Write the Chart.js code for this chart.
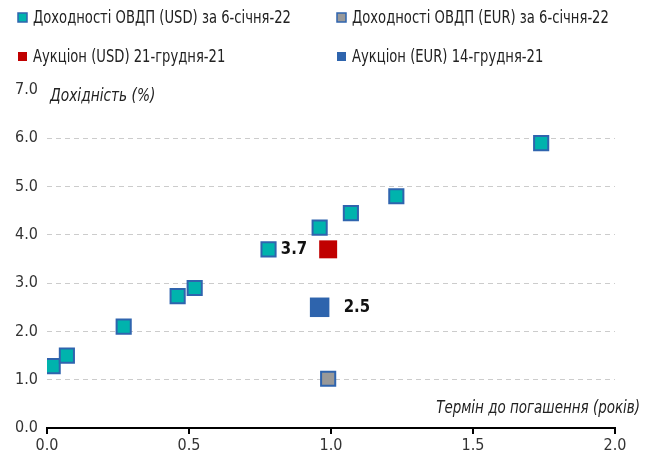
<!DOCTYPE html>
<html>
<head>
<meta charset="utf-8">
<script src="https://cdn.jsdelivr.net/npm/chart.js@4.4.1/dist/chart.umd.min.js"></script>
<style>
  html, body { margin: 0; padding: 0; background: #fff; }
  #wrap { width: 650px; height: 459px; position: relative; }
</style>
</head>
<body>
<div id="wrap"><canvas id="yieldChart"></canvas></div>
<script>
// Yield curve data
const seriesNames = [
  "Доходності ОВДП (USD) за 6-січня-22",
  "Доходності ОВДП (EUR) за 6-січня-22",
  "Аукціон (USD) 21-грудня-21",
  "Аукціон (EUR) 14-грудня-21"
];
const usdMaturity = [0.02, 0.07, 0.27, 0.46, 0.52, 0.78, 0.96, 1.07, 1.23, 1.74];
const usdYield = [1.28, 1.50, 2.10, 2.73, 2.90, 3.70, 4.15, 4.45, 4.80, 5.90];
const eurMaturity = [0.99];
const eurYield = [1.02];
const auctionUsdMaturity = [0.99];
const auctionUsdYield = [3.7];
const auctionEurMaturity = [0.96];
const auctionEurYield = [2.5];
const yAxisTitle = "Дохідність (%)";
const xAxisTitle = "Термін до погашення (років)";

const FONT = "'Liberation Sans Narrow', 'DejaVu Sans Condensed', sans-serif";

function toPoints(xs, ys) {
  return xs.map((x, i) => ({ x: x, y: ys[i] }));
}

// narrow text: squeeze horizontally around the anchor point
function narrowText(ctx, text, x, y, align, squeeze) {
  ctx.save();
  ctx.translate(x, y);
  ctx.scale(squeeze, 1);
  ctx.textAlign = align;
  ctx.fillText(text, 0, 0);
  ctx.restore();
}

// legend in two columns + axis titles, drawn on the canvas
const extrasPlugin = {
  id: "extras",
  afterDraw(chart) {
    const ctx = chart.ctx;
    const area = chart.chartArea;
    ctx.save();
    ctx.textBaseline = "middle";

    const cols = [18, 337];
    const rows = [18, 57];
    chart.data.datasets.forEach((ds, i) => {
      const x = cols[i % 2];
      const y = rows[Math.floor(i / 2)];
      ctx.fillStyle = ds.backgroundColor;
      ctx.fillRect(x, y - 5, 9, 9);
      if (ds.borderWidth > 0) {
        ctx.strokeStyle = ds.borderColor;
        ctx.lineWidth = 1.5;
        ctx.strokeRect(x, y - 5, 9, 9);
      }
      ctx.fillStyle = "#222";
      ctx.font = "17px " + FONT;
      narrowText(ctx, ds.label, x + 15, y + 1, "left", 0.86);
    });

    ctx.font = "italic 17px " + FONT;
    ctx.fillStyle = "#222";
    narrowText(ctx, yAxisTitle, area.left + 3, area.top + 7, "left", 0.9);
    narrowText(ctx, xAxisTitle, 640, area.bottom - 19, "right", 0.88);

    // value labels for the auction points
    ctx.font = "bold 18px " + FONT;
    ctx.fillStyle = "#111";
    const usdMeta = chart.getDatasetMeta(2).data[0];
    narrowText(ctx, auctionUsdYield[0].toFixed(1), usdMeta.x - 21, usdMeta.y, "right", 0.92);
    const eurMeta = chart.getDatasetMeta(3).data[0];
    narrowText(ctx, auctionEurYield[0].toFixed(1), eurMeta.x + 24, eurMeta.y, "left", 0.92);

    ctx.restore();
  }
};

new Chart(document.getElementById("yieldChart"), {
  type: "scatter",
  data: {
    datasets: [
      {
        label: seriesNames[0],
        data: toPoints(usdMaturity, usdYield),
        pointStyle: "rect",
        pointRadius: 10,
        pointHoverRadius: 10,
        backgroundColor: "#00b3ad",
        borderColor: "#2f64ae",
        borderWidth: 2
      },
      {
        label: seriesNames[1],
        data: toPoints(eurMaturity, eurYield),
        pointStyle: "rect",
        pointRadius: 10,
        pointHoverRadius: 10,
        backgroundColor: "#999999",
        borderColor: "#2f64ae",
        borderWidth: 2
      },
      {
        label: seriesNames[2],
        data: toPoints(auctionUsdMaturity, auctionUsdYield),
        pointStyle: "rect",
        pointRadius: 12.7,
        pointHoverRadius: 12.7,
        backgroundColor: "#c00000",
        borderColor: "#c00000",
        borderWidth: 0
      },
      {
        label: seriesNames[3],
        data: toPoints(auctionEurMaturity, auctionEurYield),
        pointStyle: "rect",
        pointRadius: 13.8,
        pointHoverRadius: 13.8,
        backgroundColor: "#2e64ad",
        borderColor: "#2e64ad",
        borderWidth: 0
      }
    ]
  },
  options: {
    responsive: true,
    maintainAspectRatio: false,
    animation: false,
    layout: { padding: { top: 90, right: 35, left: 0, bottom: 0 } },
    plugins: {
      legend: { display: false },
      tooltip: { enabled: false }
    },
    scales: {
      x: {
        type: "linear",
        min: 0,
        max: 2,
        afterFit: (scale) => { scale.height = 31; },
        ticks: {
          stepSize: 0.5,
          padding: 2,
          color: "#333",
          font: { family: FONT, size: 16 },
          callback: (v) => v.toFixed(1)
        },
        grid: {
          drawOnChartArea: false,
          drawTicks: true,
          tickLength: 6,
          color: "#000",
          lineWidth: 2
        },
        border: { display: true, color: "#000", width: 2 }
      },
      y: {
        min: 0,
        max: 7,
        afterFit: (scale) => { scale.width = 47; },
        ticks: {
          stepSize: 1,
          padding: 9,
          color: "#333",
          font: { family: FONT, size: 16 },
          callback: (v) => v.toFixed(1)
        },
        grid: {
          drawTicks: false,
          color: (c) => (c.tick && (c.tick.value === 0 || c.tick.value === 7)) ? "rgba(0,0,0,0)" : "#cccccc",
          lineWidth: 1
        },
        border: { display: false, dash: [5, 4] }
      }
    }
  },
  plugins: [extrasPlugin]
});
</script>
</body>
</html>
